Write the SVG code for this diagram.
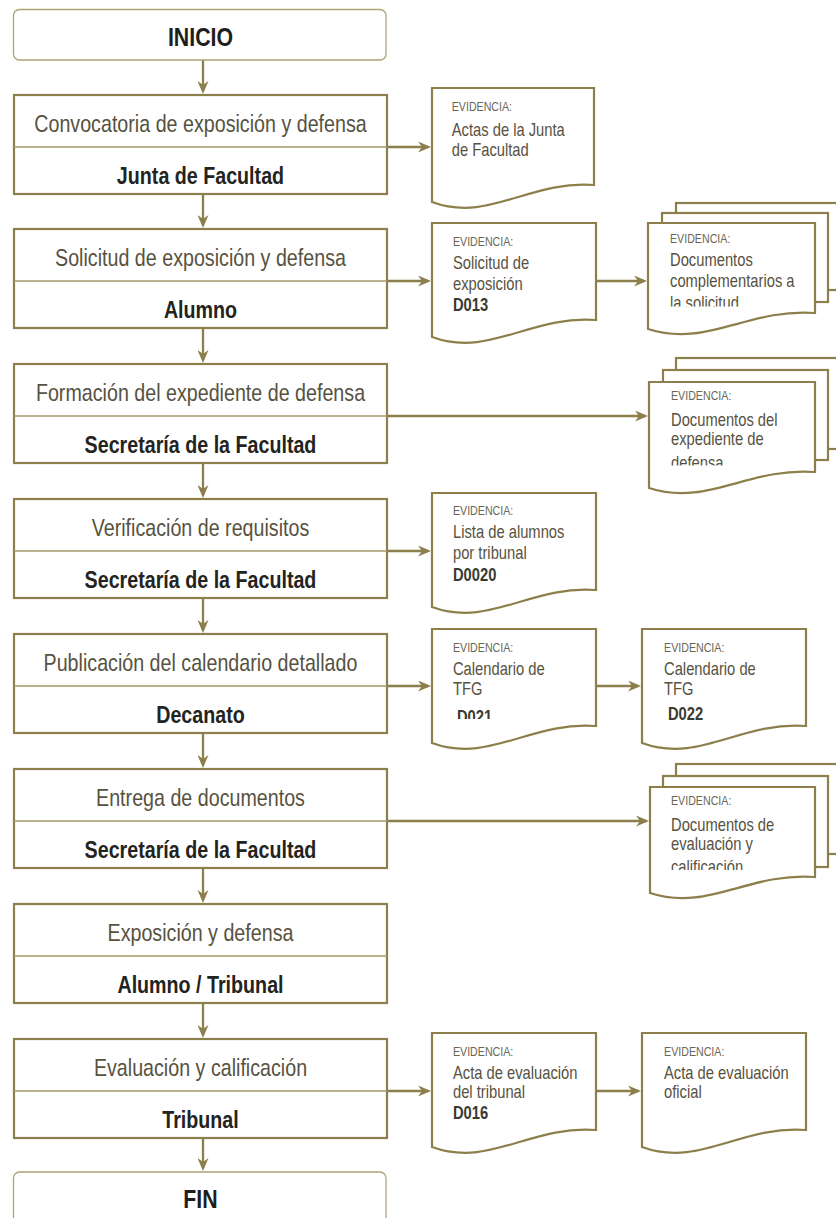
<svg xmlns="http://www.w3.org/2000/svg" width="836" height="1218" viewBox="0 0 836 1218">
<style>
.term{fill:#fff;stroke:#aea377;stroke-width:1.3}
.box{fill:#fff;stroke:#8c7f4b;stroke-width:2.2}
.div{stroke:#a39868;stroke-width:1.5}
.doc{fill:#fff;stroke:#8c7f4b;stroke-width:2.2;stroke-linejoin:miter}
.con{fill:none;stroke:#8c7f4b;stroke-width:2.3}
text{font-family:"Liberation Sans",Arial,sans-serif}
.tt{font-size:24px;fill:#57523f;text-anchor:middle}
.tb{font-size:24px;font-weight:bold;fill:#232320;text-anchor:middle}
.tm{font-size:26px;font-weight:bold;fill:#1e1e1c;text-anchor:middle}
.ev{font-size:13px;fill:#6a6656}
.dt{font-size:18px;fill:#57523f}
.db{font-size:18px;font-weight:bold;fill:#3b3a30}
</style>
<defs>
<marker id="ah" markerUnits="userSpaceOnUse" markerWidth="13" markerHeight="11" refX="10" refY="5.5" orient="auto">
<path d="M0,0 L13,5.5 L0,11 L4,5.5 Z" fill="#8c7f4b"/>
</marker>
<clipPath id="cMD1"><rect x="640" y="200" width="200" height="106.5"/></clipPath>
<clipPath id="cMD2"><rect x="640" y="360" width="200" height="105.5"/></clipPath>
<clipPath id="cMD3"><rect x="640" y="760" width="200" height="110"/></clipPath>
<clipPath id="cD21"><rect x="420" y="620" width="200" height="99"/></clipPath>
</defs>

<g id="connectors">
<line class="con" x1="203" y1="60" x2="203" y2="91" marker-end="url(#ah)"/>
<line class="con" x1="203" y1="194" x2="203" y2="225" marker-end="url(#ah)"/>
<line class="con" x1="203" y1="328" x2="203" y2="360" marker-end="url(#ah)"/>
<line class="con" x1="203" y1="463" x2="203" y2="495" marker-end="url(#ah)"/>
<line class="con" x1="203" y1="598" x2="203" y2="630" marker-end="url(#ah)"/>
<line class="con" x1="203" y1="733" x2="203" y2="765" marker-end="url(#ah)"/>
<line class="con" x1="203" y1="868" x2="203" y2="900" marker-end="url(#ah)"/>
<line class="con" x1="203" y1="1003" x2="203" y2="1035" marker-end="url(#ah)"/>
<line class="con" x1="203" y1="1138" x2="203" y2="1168" marker-end="url(#ah)"/>
<line class="con" x1="388" y1="147" x2="428" y2="147" marker-end="url(#ah)"/>
<line class="con" x1="388" y1="281" x2="428" y2="281" marker-end="url(#ah)"/>
<line class="con" x1="597" y1="281" x2="644" y2="281" marker-end="url(#ah)"/>
<line class="con" x1="388" y1="416" x2="645" y2="416" marker-end="url(#ah)"/>
<line class="con" x1="388" y1="551" x2="428" y2="551" marker-end="url(#ah)"/>
<line class="con" x1="388" y1="686" x2="428" y2="686" marker-end="url(#ah)"/>
<line class="con" x1="597" y1="686" x2="638" y2="686" marker-end="url(#ah)"/>
<line class="con" x1="388" y1="821" x2="646" y2="821" marker-end="url(#ah)"/>
<line class="con" x1="388" y1="1091" x2="428" y2="1091" marker-end="url(#ah)"/>
<line class="con" x1="597" y1="1091" x2="638" y2="1091" marker-end="url(#ah)"/>
</g>

<g id="inicio">
<rect class="term" x="13.5" y="9.5" width="372.5" height="50.5" rx="6"/>
<g transform="scale(0.82 1)"><text class="tm" x="244.5" y="46">INICIO</text></g>
</g>

<g id="p1">
<rect class="box" x="14" y="95" width="373" height="99"/>
<line class="div" x1="14" y1="147" x2="387" y2="147"/>
<g transform="scale(0.82 1)"><text class="tt" x="244.5" y="132">Convocatoria de exposición y defensa</text><text class="tb" x="244.5" y="184">Junta de Facultad</text></g>
</g>
<g id="p2">
<rect class="box" x="14" y="229" width="373" height="99"/>
<line class="div" x1="14" y1="281" x2="387" y2="281"/>
<g transform="scale(0.82 1)"><text class="tt" x="244.5" y="266">Solicitud de exposición y defensa</text><text class="tb" x="244.5" y="318">Alumno</text></g>
</g>
<g id="p3">
<rect class="box" x="14" y="364" width="373" height="99"/>
<line class="div" x1="14" y1="416" x2="387" y2="416"/>
<g transform="scale(0.82 1)"><text class="tt" x="244.5" y="401">Formación del expediente de defensa</text><text class="tb" x="244.5" y="453">Secretaría de la Facultad</text></g>
</g>
<g id="p4">
<rect class="box" x="14" y="499" width="373" height="99"/>
<line class="div" x1="14" y1="551" x2="387" y2="551"/>
<g transform="scale(0.82 1)"><text class="tt" x="244.5" y="536">Verificación de requisitos</text><text class="tb" x="244.5" y="588">Secretaría de la Facultad</text></g>
</g>
<g id="p5">
<rect class="box" x="14" y="634" width="373" height="99"/>
<line class="div" x1="14" y1="686" x2="387" y2="686"/>
<g transform="scale(0.82 1)"><text class="tt" x="244.5" y="671">Publicación del calendario detallado</text><text class="tb" x="244.5" y="723">Decanato</text></g>
</g>
<g id="p6">
<rect class="box" x="14" y="769" width="373" height="99"/>
<line class="div" x1="14" y1="821" x2="387" y2="821"/>
<g transform="scale(0.82 1)"><text class="tt" x="244.5" y="806">Entrega de documentos</text><text class="tb" x="244.5" y="858">Secretaría de la Facultad</text></g>
</g>
<g id="p7">
<rect class="box" x="14" y="904" width="373" height="99"/>
<line class="div" x1="14" y1="956" x2="387" y2="956"/>
<g transform="scale(0.82 1)"><text class="tt" x="244.5" y="941">Exposición y defensa</text><text class="tb" x="244.5" y="993">Alumno / Tribunal</text></g>
</g>
<g id="p8">
<rect class="box" x="14" y="1039" width="373" height="99"/>
<line class="div" x1="14" y1="1091" x2="387" y2="1091"/>
<g transform="scale(0.82 1)"><text class="tt" x="244.5" y="1076">Evaluación y calificación</text><text class="tb" x="244.5" y="1128">Tribunal</text></g>
</g>

<g id="fin">
<rect class="term" x="13.5" y="1172" width="372.5" height="70" rx="6"/>
<g transform="scale(0.82 1)"><text class="tm" x="244.5" y="1208">FIN</text></g>
</g>

<g id="d1">
<path class="doc" d="M432,88 H594 V185 C529.2,180 488.7,223 432,202 Z"/>
<g transform="scale(0.82 1)"><text class="ev" x="550.9" y="111.5">EVIDENCIA:</text><text class="dt" x="550.9" y="136.5">Actas de la Junta</text><text class="dt" x="550.9" y="156.5">de Facultad</text></g>
</g>
<g id="d2">
<path class="doc" d="M432,223 H596 V320 C530.4,315 489.4,358 432,337 Z"/>
<g transform="scale(0.82 1)"><text class="ev" x="552.4" y="246">EVIDENCIA:</text><text class="dt" x="552.4" y="269">Solicitud de</text><text class="dt" x="552.4" y="290">exposición</text><text class="db" x="552.4" y="311">D013</text></g>
</g>
<g id="md1">
<rect class="doc" x="676" y="203" width="170" height="87"/>
<rect class="doc" x="662" y="213" width="166" height="89"/>
<path class="doc" d="M648,223 H815 V313 C748.2,308 706.5,348 648,329 Z"/>
<g clip-path="url(#cMD1)"><g transform="scale(0.82 1)"><text class="ev" x="817.1" y="243">EVIDENCIA:</text><text class="dt" x="817.1" y="266.5">Documentos</text><text class="dt" x="817.1" y="287">complementarios a</text><text class="dt" x="817.1" y="309">la solicitud</text></g></g>
</g>
<g id="md2">
<rect class="doc" x="676" y="358" width="170" height="91"/>
<rect class="doc" x="663" y="370" width="165" height="90"/>
<path class="doc" d="M649,382 H815 V472 C748.6,467 707.1,507 649,488 Z"/>
<g clip-path="url(#cMD2)"><g transform="scale(0.82 1)"><text class="ev" x="818.3" y="400.5">EVIDENCIA:</text><text class="dt" x="818.3" y="426">Documentos del</text><text class="dt" x="818.3" y="445">expediente de</text><text class="dt" x="818.3" y="469">defensa</text></g></g>
</g>
<g id="d4">
<path class="doc" d="M432,493 H596 V590 C530.4,585 489.4,628 432,607 Z"/>
<g transform="scale(0.82 1)"><text class="ev" x="552.4" y="515">EVIDENCIA:</text><text class="dt" x="552.4" y="538">Lista de alumnos</text><text class="dt" x="552.4" y="559">por tribunal</text><text class="db" x="552.4" y="581">D0020</text></g>
</g>
<g id="d5a">
<path class="doc" d="M432,629 H596 V726 C530.4,721 489.4,764 432,743 Z"/>
<g transform="scale(0.82 1)"><text class="ev" x="552.4" y="652">EVIDENCIA:</text><text class="dt" x="552.4" y="675">Calendario de</text><text class="dt" x="552.4" y="695">TFG</text></g>
<g clip-path="url(#cD21)"><g transform="scale(0.82 1)"><text class="db" x="557.3" y="723">D021</text></g></g>
</g>
<g id="d5b">
<path class="doc" d="M642,629 H806 V726 C740.4,721 699.4,764 642,743 Z"/>
<g transform="scale(0.82 1)"><text class="ev" x="809.8" y="652">EVIDENCIA:</text><text class="dt" x="809.8" y="675">Calendario de</text><text class="dt" x="809.8" y="695">TFG</text><text class="db" x="814.6" y="720">D022</text></g>
</g>
<g id="md3">
<rect class="doc" x="676" y="764" width="170" height="90"/>
<rect class="doc" x="663" y="776" width="165" height="91"/>
<path class="doc" d="M650,787 H815 V877 C749,872 707.75,912 650,893 Z"/>
<g clip-path="url(#cMD3)"><g transform="scale(0.82 1)"><text class="ev" x="818.3" y="805.5">EVIDENCIA:</text><text class="dt" x="818.3" y="831">Documentos de</text><text class="dt" x="818.3" y="850.5">evaluación y</text><text class="dt" x="818.3" y="873">calificación</text></g></g>
</g>
<g id="d8a">
<path class="doc" d="M432,1033 H596 V1130 C530.4,1125 489.4,1168 432,1147 Z"/>
<g transform="scale(0.82 1)"><text class="ev" x="552.4" y="1056">EVIDENCIA:</text><text class="dt" x="552.4" y="1079">Acta de evaluación</text><text class="dt" x="552.4" y="1098">del tribunal</text><text class="db" x="552.4" y="1119">D016</text></g>
</g>
<g id="d8b">
<path class="doc" d="M642,1033 H806 V1130 C740.4,1125 699.4,1168 642,1147 Z"/>
<g transform="scale(0.82 1)"><text class="ev" x="809.8" y="1056">EVIDENCIA:</text><text class="dt" x="809.8" y="1079">Acta de evaluación</text><text class="dt" x="809.8" y="1098">oficial</text></g>
</g>
</svg>
